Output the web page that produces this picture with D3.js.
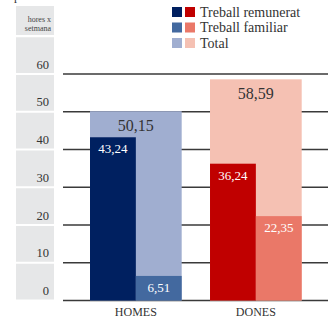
<!DOCTYPE html>
<html>
<head>
<meta charset="utf-8">
<script src="https://cdn.jsdelivr.net/npm/d3@7"></script>
<style>
  body { margin: 0; background: #fff; }
  svg { display: block; }
  svg text { font-family: "Liberation Serif", "DejaVu Serif", serif; }
</style>
</head>
<body>
<div id="chart"></div>
<script>
// chart values
const groups = ['HOMES', 'DONES'];
const paid = [43.24, 36.24];
const family = [6.51, 22.35];
const total = [50.15, 58.59];
const yTicks = [0, 10, 20, 30, 40, 50, 60];
const legendLabels = ['Treball remunerat', 'Treball familiar', 'Total'];

const colors = {
    HOMES: ['#002060', '#43699f', '#a0aed0'],
    DONES: ['#c00000', '#ea7868', '#f5c1b3']
};

const width = 328, height = 319;
const fmt = v => d3.format('.2f')(v).replace('.', ',');

const svg = d3.select('#chart').append('svg')
    .attr('width', width)
    .attr('height', height);

const y = d3.scaleLinear().domain([0, 60]).range([300.5, 74]);
const x = d3.scaleBand().domain(groups).range([90, 301.7]).paddingInner(0.236).paddingOuter(0);
const bw = x.bandwidth();

// cut-off title fragment
svg.append('text').attr('x', 14).attr('y', 0).attr('font-size', 12).attr('fill', '#333').text('p');

// gray tick panel
svg.append('rect').attr('x', 16).attr('y', 6).attr('width', 38).attr('height', 29).attr('fill', '#e6e7e8');
svg.append('text').attr('x', 51).attr('y', 22).attr('text-anchor', 'end')
    .attr('font-size', 8).attr('fill', '#444').text('hores x');
svg.append('text').attr('x', 51).attr('y', 30.5).attr('text-anchor', 'end')
    .attr('font-size', 8).attr('fill', '#444').text('setmana');

svg.selectAll('.band').data(yTicks).join('rect')
    .attr('class', 'band')
    .attr('x', 16).attr('width', 38)
    .attr('y', d => y(d + 10) + 1)
    .attr('height', d => y(d) - y(d + 10) - 2)
    .attr('fill', '#e6e7e8');

svg.selectAll('.tick-label').data(yTicks).join('text')
    .attr('class', 'tick-label')
    .attr('x', 49).attr('y', d => y(d) - 5.5)
    .attr('text-anchor', 'end')
    .attr('font-size', 12.5).attr('fill', '#333')
    .text(d => d);

// gridlines
svg.selectAll('.grid').data(yTicks).join('line')
    .attr('class', 'grid')
    .attr('x1', 63).attr('x2', width)
    .attr('y1', d => y(d)).attr('y2', d => y(d))
    .attr('stroke', '#3a3a3a').attr('stroke-width', 1.4);

// bars
groups.forEach((g, i) => {
    const x0 = x(g);
    const c = colors[g];
    svg.append('rect').attr('x', x0).attr('y', y(total[i]))
        .attr('width', bw).attr('height', y(0) - y(total[i])).attr('fill', c[2]);
    svg.append('rect').attr('x', x0).attr('y', y(paid[i]))
        .attr('width', bw / 2).attr('height', y(0) - y(paid[i])).attr('fill', c[0]);
    svg.append('rect').attr('x', x0 + bw / 2).attr('y', y(family[i]))
        .attr('width', bw / 2).attr('height', y(0) - y(family[i])).attr('fill', c[1]);

    svg.append('text').attr('x', x0 + bw / 2).attr('y', y(total[i]) + 19.5)
        .attr('text-anchor', 'middle').attr('font-size', 16).attr('fill', '#333')
        .text(fmt(total[i]));
    svg.append('text').attr('x', x0 + bw / 4).attr('y', y(paid[i]) + 16)
        .attr('text-anchor', 'middle').attr('font-size', 13).attr('fill', '#fff')
        .text(fmt(paid[i]));
    svg.append('text').attr('x', x0 + bw * 3 / 4).attr('y', y(family[i]) + 16)
        .attr('text-anchor', 'middle').attr('font-size', 13).attr('fill', '#fff')
        .text(fmt(family[i]));

    svg.append('text').attr('x', x0 + bw / 2).attr('y', 316)
        .attr('text-anchor', 'middle').attr('font-size', 12).attr('fill', '#333')
        .text(g);
});

// legend
const legend = svg.append('g');
legendLabels.forEach((lab, k) => {
    const ly = 7 + k * 15.5;
    legend.append('rect').attr('x', 172).attr('y', ly).attr('width', 10).attr('height', 10)
        .attr('fill', colors.HOMES[k]);
    legend.append('rect').attr('x', 185).attr('y', ly).attr('width', 10).attr('height', 10)
        .attr('fill', colors.DONES[k]);
    legend.append('text').attr('x', 200).attr('y', ly + 9.5)
        .attr('font-size', 14).attr('fill', '#333').text(lab);
});
</script>
</body>
</html>
